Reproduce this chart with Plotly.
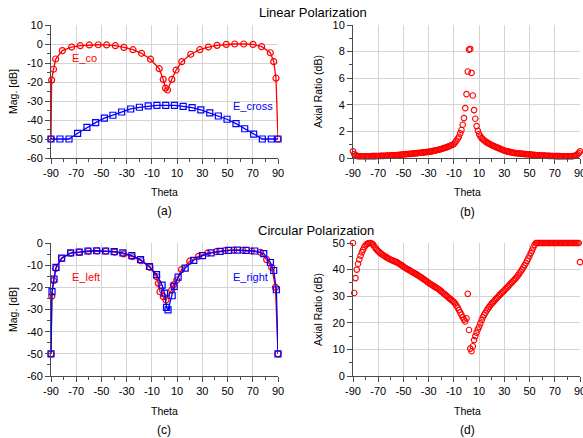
import plotly.graph_objects as go

# ---------------- data ----------------
# (a) Linear polarization, magnitude [dB]
theta_co = [-90, -89.5, -88, -86.3, -81, -73.6, -66.8, -59.6, -52.5, -45.9, -39, -32.2, -25, -18.2,
            -11.1, -4.2, -1, 0.8, 2.4, 5.8, 9.2, 13.7, 20.8, 28, 34.8, 41.7, 49, 55.7, 62.8, 70.2,
            77, 83.9, 86.6, 88.4, 90]
e_co = [-50, -19, -13.3, -7.9, -3.5, -1.6, -0.9, -0.5, -0.4, -0.5, -0.9, -1.8, -3, -4.9,
        -8, -13, -18.6, -23.2, -24.2, -18.6, -13.7, -9.3, -5.4, -3, -1.6, -0.7, -0.2, 0, 0, -0.2,
        -1.4, -4.6, -9.3, -18, -50]

theta_cross = [-90, -82.9, -75.7, -68.9, -61.5, -54.6, -47.7, -40.9, -34, -26.8, -19.9, -12.9, -6, 1,
               7.9, 14.8, 21.9, 28.8, 35.9, 42.7, 49.6, 56.7, 63.6, 70.7, 77.6, 84.7, 90]
e_cross = [-50, -50, -50, -47, -43.9, -41.4, -39, -37.5, -35.8, -34.2, -33.3, -32.6, -32.3, -32.3,
           -32.3, -32.8, -33.5, -34.7, -36.3, -37.9, -39.6, -41.9, -44.6, -47.4, -50, -50, -50]

# (b) Linear polarization, axial ratio (dB), theta -90..90 step 1
theta_ar = list(range(-90, 91))
ar_linear = [
    0.5, 0.3, 0.2, 0.16, 0.14, 0.13, 0.13, 0.13, 0.13, 0.13,
    0.13, 0.13, 0.13, 0.13, 0.13, 0.14, 0.14, 0.14, 0.14, 0.15,
    0.15, 0.15, 0.16, 0.16, 0.16, 0.17, 0.17, 0.18, 0.18, 0.19,
    0.19, 0.2, 0.2, 0.21, 0.21, 0.22, 0.23, 0.24, 0.25, 0.26,
    0.27, 0.28, 0.29, 0.3, 0.3, 0.31, 0.32, 0.33, 0.34, 0.35,
    0.36, 0.37, 0.38, 0.39, 0.4, 0.41, 0.42, 0.43, 0.44, 0.45,
    0.46, 0.48, 0.5, 0.52, 0.54, 0.56, 0.58, 0.6, 0.62, 0.65,
    0.68, 0.71, 0.74, 0.77, 0.8, 0.84, 0.88, 0.92, 0.96, 1.0,
    1.05, 1.18, 1.3, 1.45, 1.6, 1.85, 2.1, 2.5, 3.0, 3.75,
    4.8, 6.5, 8.15, 8.2, 6.4, 4.7, 3.6, 2.95, 2.4, 2.05,
    1.8, 1.62, 1.5, 1.4, 1.32, 1.25, 1.18, 1.12, 1.07, 1.02,
    0.97, 0.92, 0.88, 0.84, 0.8, 0.76, 0.72, 0.68, 0.64, 0.6,
    0.56, 0.53, 0.5, 0.48, 0.46, 0.44, 0.42, 0.4, 0.38, 0.37,
    0.36, 0.35, 0.34, 0.33, 0.32, 0.31, 0.3, 0.29, 0.28, 0.28,
    0.27, 0.26, 0.25, 0.24, 0.23, 0.22, 0.21, 0.2, 0.2, 0.19,
    0.19, 0.18, 0.18, 0.17, 0.17, 0.16, 0.16, 0.15, 0.15, 0.15,
    0.15, 0.14, 0.14, 0.14, 0.14, 0.13, 0.13, 0.13, 0.13, 0.13,
    0.13, 0.13, 0.13, 0.13, 0.14, 0.15, 0.17, 0.2, 0.27, 0.38, 0.5]

# (c) Circular polarization, magnitude [dB]
theta_left = [-90, -89.4, -88, -86.2, -81.5, -74.5, -67.5, -60.5, -53.5, -46.5, -39.5, -32.5, -25.5,
              -18.5, -11.5, -6.2, -4.9, -3.6, -0.9, 1.2, 5.7, 7, 9.7, 13.5, 20, 27, 34, 41, 48, 55,
              62, 69, 76, 81, 85, 88, 90]
e_left = [-50, -24, -17, -11.5, -7, -4.6, -4.1, -3.7, -3.6, -3.7, -4.1, -4.9, -6.2,
          -8, -11, -15.2, -18.2, -22, -24.2, -25.7, -21.2, -18.9, -16.7, -12, -8.2, -6, -4.6, -3.9,
          -3.4, -3.2, -3.3, -3.6, -4.2, -7.5, -11, -20, -50]

theta_right = [-90, -89.2, -87.6, -86, -81.6, -74.4, -67.6, -60.7, -53.8, -46.7, -39.9, -33, -25.9,
               -19, -11.9, -6.3, -1.9, 0, 1.6, 2.8, 6.1, 7.7, 10.8, 16.4, 23.2, 30.1, 37, 44.1, 50.9,
               57.8, 64.7, 71.5, 78.7, 84, 86.6, 88.7, 90]
e_right = [-50, -21.9, -16.3, -11, -6.8, -4.5, -4.1, -3.6, -3.5, -3.6, -3.9, -4.5, -5.7,
           -7.5, -10.6, -14.3, -19, -22.6, -29, -30.2, -23.8, -19.6, -15.4, -11.3, -7.8, -5.7, -4.5,
           -3.8, -3.3, -3.2, -3.3, -3.6, -4.8, -8.8, -12.4, -21.1, -50]

# (d) Circular polarization, axial ratio (dB), theta -90..90 step 1
ar_circular = [
    50, 31.2, 36.8, 40, 42.2, 43.8, 45.2, 46.5, 47.5, 48.5,
    49.1, 49.6, 49.9, 50, 50, 49.8, 49.4, 48.6, 48, 47.4,
    46.9, 46.5, 46.1, 45.7, 45.4, 45.1, 44.8, 44.5, 44.2, 44,
    43.7, 43.5, 43.3, 43.1, 42.9, 42.7, 42.4, 42.1, 41.8, 41.5,
    41.1, 40.8, 40.5, 40.2, 40, 39.7, 39.4, 39.1, 38.8, 38.6,
    38.3, 38, 37.7, 37.4, 37.1, 36.8, 36.4, 36.1, 35.7, 35.4,
    35, 34.7, 34.4, 34.1, 33.8, 33.5, 33.2, 32.9, 32.6, 32.2,
    31.8, 31.4, 31, 30.6, 30.2, 29.8, 29.4, 29, 28.6, 28.2,
    27.8, 27.2, 26.5, 25.7, 24.8, 23.9, 23, 22.1, 21.2, 20.5,
    21.7, 30.9, 17.3, 10.3, 9.3, 11.2, 13.5, 15, 16.3, 17.5,
    18.5, 19.8, 21, 22.1, 23, 23.8, 24.6, 25.3, 26, 26.6,
    27.2, 27.7, 28.2, 28.8, 29.3, 29.8, 30.3, 30.8, 31.3, 31.7,
    32.2, 32.7, 33.2, 33.7, 34.2, 34.7, 35.2, 35.7, 36.2, 36.7,
    37.3, 37.9, 38.6, 39.3, 40, 40.8, 41.6, 42.4, 43.3, 44.2,
    45.2, 46.2, 47.2, 48.3, 49.3, 50, 50, 50, 50, 50,
    50, 50, 50, 50, 50, 50, 50, 50, 50, 50,
    50, 50, 50, 50, 50, 50, 50, 50, 50, 50,
    50, 50, 50, 50, 50, 50, 50, 50, 50, 50, 42.8]

# tick labels
x_tickvals = [-90, -70, -50, -30, -10, 10, 30, 50, 70, 90]
x_ticktext = ["-90", "-70", "-50", "-30", "-10", "10", "30", "50", "70", "90"]
ya_tickvals = [10, 0, -10, -20, -30, -40, -50, -60]
ya_ticktext = ["10", "0", "-10", "-20", "-30", "-40", "-50", "-60"]
yb_tickvals = [0, 2, 4, 6, 8, 10]
yc_tickvals = [0, -10, -20, -30, -40, -50, -60]
yc_ticktext = ["0", "-10", "-20", "-30", "-40", "-50", "-60"]
yd_tickvals = [0, 10, 20, 30, 40, 50]

# ---------------- styling ----------------
W, H = 583, 438
RED = "#ff0000"
BLUE = "#0000ff"
AX = "#4a4a4a"
GRID = "#d4d4d4"
FONT = "Liberation Sans, Arial, sans-serif"


def px(x, y):
    return x / W, 1 - y / H


xdom_l = [51 / W, 278 / W]
xdom_r = [353 / W, 580 / W]
ydom_t = [1 - 158 / H, 1 - 25 / H]
ydom_b = [1 - 376 / H, 1 - 243 / H]

fig = go.Figure()


def line_trace(x, y, color, symbol, xa, ya):
    return go.Scatter(x=x, y=y, mode="lines+markers", cliponaxis=False,
                      line=dict(color=color, width=1.3),
                      marker=dict(symbol=symbol, size=6, color=color, line=dict(width=1.2, color=color)),
                      xaxis=xa, yaxis=ya, showlegend=False, hoverinfo="skip")


def dot_trace(x, y, xa, ya):
    return go.Scatter(x=x, y=y, mode="markers", cliponaxis=False,
                      marker=dict(symbol="circle-open", size=5.5, color=RED, line=dict(width=1.1, color=RED)),
                      xaxis=xa, yaxis=ya, showlegend=False, hoverinfo="skip")


fig.add_trace(line_trace(theta_co, e_co, RED, "circle-open", "x", "y"))
fig.add_trace(line_trace(theta_cross, e_cross, BLUE, "square-open", "x", "y"))
fig.add_trace(dot_trace(theta_ar, ar_linear, "x2", "y2"))
fig.add_trace(line_trace(theta_left, e_left, RED, "circle-open", "x3", "y3"))
fig.add_trace(line_trace(theta_right, e_right, BLUE, "square-open", "x3", "y3"))
fig.add_trace(dot_trace(theta_ar, ar_circular, "x4", "y4"))


def xaxis(domain, anchor):
    return dict(domain=domain, anchor=anchor, range=[-90, 90], tickmode="array",
                tickvals=x_tickvals, ticktext=x_ticktext,
                ticks="outside", ticklen=5, tickcolor=AX, tickwidth=1,
                showline=True, linecolor=AX, linewidth=1,
                showgrid=True, gridcolor=GRID, gridwidth=1, zeroline=False, automargin=False,
                ticklabeloverflow="allow",
                minor=dict(ticks="outside", ticklen=3, tickcolor=AX, tick0=-90, dtick=10, showgrid=False),
                tickfont=dict(size=11, color="#000", family=FONT), fixedrange=True)


def yaxis(domain, anchor, rng, vals, text, minor_d):
    return dict(domain=domain, anchor=anchor, range=rng, tickmode="array",
                tickvals=vals, ticktext=text,
                ticks="outside", ticklen=5, tickcolor=AX, tickwidth=1,
                showline=True, linecolor=AX, linewidth=1,
                showgrid=True, gridcolor=GRID, gridwidth=1, zeroline=False, automargin=False,
                ticklabeloverflow="allow",
                minor=dict(ticks="outside", ticklen=3, tickcolor=AX, tick0=0, dtick=minor_d, showgrid=False),
                tickfont=dict(size=11, color="#000", family=FONT), fixedrange=True)


anns = []


def add_text(text, x, y, size, color="#000", angle=0, xanchor="center"):
    fx, fy = px(x, y)
    anns.append(dict(text=text, x=fx, y=fy, xref="paper", yref="paper", showarrow=False,
                     xanchor=xanchor, yanchor="middle", textangle=angle,
                     font=dict(size=size, color=color, family=FONT)))


add_text("Linear Polarization", 313, 12, 13)
add_text("Circular Polarization", 316, 230, 13)
for (x, y) in [(12.5, 91.5), (12.5, 309.5)]:
    add_text("Mag. [dB]", x, y, 10.5, angle=-90)
for (x, y) in [(318, 92), (318, 310)]:
    add_text("Axial Ratio (dB)", x, y, 10.5, angle=-90)
for (x, y) in [(164, 192), (467, 192), (164, 411), (467, 411)]:
    add_text("Theta", x, y, 10.5)
add_text("(a)", 164, 211, 12)
add_text("(b)", 467, 212, 12)
add_text("(c)", 164, 430, 12)
add_text("(d)", 467, 430, 12)

# in-plot series labels (data coordinates)
for text, x, y, xr, yr, color in [("E_co", -75, -7.4, "x", "y", RED),
                                  ("E_cross", 52.7, -32.6, "x", "y", BLUE),
                                  ("E_left", -75, -15.3, "x3", "y3", RED),
                                  ("E_right", 52.7, -15.3, "x3", "y3", BLUE)]:
    anns.append(dict(text=text, x=x, y=y, xref=xr, yref=yr, showarrow=False, xanchor="left",
                     yanchor="middle", font=dict(size=11, color=color, family=FONT)))

fig.update_layout(
    width=W, height=H, margin=dict(l=0, r=0, t=0, b=0, pad=0, autoexpand=False),
    paper_bgcolor="white", plot_bgcolor="white",
    font=dict(family=FONT, size=11, color="#000"),
    showlegend=False,
    xaxis=xaxis(xdom_l, "y"),
    yaxis=yaxis(ydom_t, "x", [-60, 10], ya_tickvals, ya_ticktext, 5),
    xaxis2=xaxis(xdom_r, "y2"),
    yaxis2=yaxis(ydom_t, "x2", [0, 10], yb_tickvals, [str(v) for v in yb_tickvals], 1),
    xaxis3=xaxis(xdom_l, "y3"),
    yaxis3=yaxis(ydom_b, "x3", [-60, 0], yc_tickvals, yc_ticktext, 5),
    xaxis4=xaxis(xdom_r, "y4"),
    yaxis4=yaxis(ydom_b, "x4", [0, 50], yd_tickvals, [str(v) for v in yd_tickvals], 5),
    annotations=anns,
)

fig.write_html("out.html", config=dict(displayModeBar=False, staticPlot=True))
